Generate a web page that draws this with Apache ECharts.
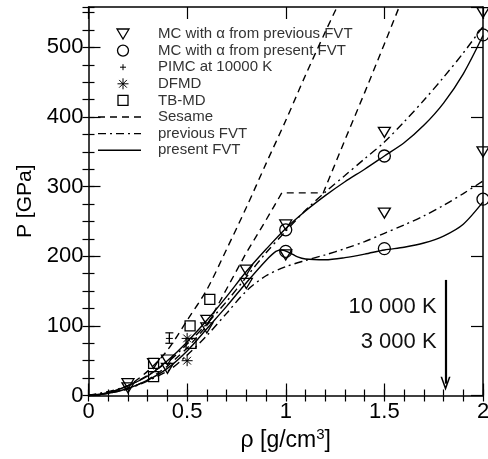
<!DOCTYPE html>
<html><head><meta charset="utf-8">
<script src="https://cdn.jsdelivr.net/npm/echarts@6/dist/echarts.min.js"></script>
<style>html,body{margin:0;padding:0;background:#fff}#c{width:488px;height:459px}</style>
</head><body><div id="c"></div>
<script>
// ---- data ----
const xTickLabels = ['0', '0.5', '1', '1.5', '2'];
const yTickLabels = ['0', '100', '200', '300', '400', '500'];
const legendLabels = ['MC with \u03b1 from previous FVT', 'MC with \u03b1 from present FVT', 'PIMC at 10000 K', 'DFMD', 'TB-MD', 'Sesame', 'previous FVT', 'present FVT'];
const tempLabels = ['10 000 K', '3 000 K'];

const mcPrevious = [[0.2,17],[0.2,11],[0.33,46],[0.4,51],[0.4,39],[0.6,108],[0.6,97],[0.8,180],[0.8,161],[1,245],[1,202],[1.5,378],[1.5,262],[2,550],[2,350]];
const mcPresent = [[1,238],[1,207],[1.5,344],[1.5,211],[2,518],[2,282]];
const pimc = [[0.41,82,75,90]];
const dfmd = [[0.5,82],[0.5,50]];
const tbmd = [[0.33,27],[0.33,46],[0.515,100],[0.52,75],[0.615,138]];

const sesameA = [[0,0],[0.1,4],[0.2,14],[0.3,35],[0.4,65],[0.5,108],[0.6,152],[0.7,210],[0.8,270],[0.9,333],[1.0,395],[1.1,460],[1.2,522],[1.26,558]];
const sesameB = [[0,0],[0.1,3],[0.2,9],[0.3,22],[0.4,42],[0.5,68],[0.6,100],[0.7,153],[0.8,205],[0.9,252],[0.98,291],[1.19,291],[1.3,367],[1.4,435],[1.5,505],[1.575,558]];
const prevFvtHigh = [[0,0],[0.2,14],[0.4,48],[0.5,74],[0.6,103],[0.7,135],[0.8,170],[0.9,205],[1.0,236],[1.1,266],[1.2,292],[1.3,316],[1.4,340],[1.5,364],[1.6,393],[1.7,424],[1.8,457],[1.9,492],[2.0,530]];
const prevFvtLow = [[0,0],[0.2,10],[0.4,35],[0.5,58],[0.6,86],[0.7,118],[0.8,150],[0.9,172],[1.0,185],[1.1,194],[1.2,202],[1.3,211],[1.4,221],[1.5,233],[1.6,245],[1.7,258],[1.8,273],[1.9,290],[2.0,308]];
const presentFvtHigh = [[0,0],[0.1,4],[0.2,14],[0.3,28],[0.4,50],[0.5,77],[0.6,108],[0.7,142],[0.8,178],[0.9,210],[1.0,240],[1.1,265],[1.2,287],[1.3,307],[1.4,325],[1.5,344],[1.6,363],[1.7,388],[1.8,420],[1.9,462],[2.0,517]];
const presentFvtLow = [[0,0],[0.1,3],[0.2,10],[0.3,22],[0.4,39],[0.5,64],[0.6,96],[0.7,128],[0.8,162],[0.9,194],[0.95,207],[0.98,209],[1.02,205],[1.06,199],[1.1,196],[1.2,195],[1.3,198],[1.4,203],[1.5,209],[1.6,213],[1.7,219],[1.8,229],[1.9,246],[2.0,278]];
const tempLabelPos = [[1.785,127],[1.785,77]];
const arrowFrom = [1.81,166];
const arrowTo = [1.81,17];

// ---- chart ----
const FONT = 'Liberation Sans, Arial, Helvetica, sans-serif';
const DASH = [7,5];
const DASHDOT = [8,4,2,4];
const BLACK = '#000';
const Y_MAX = 558;

const chart = echarts.init(document.getElementById('c'), null, {renderer:'canvas'});

function majorX(grid, pos, labels) {
  return {type:'value', gridIndex:grid, position:pos, min:0, max:2, interval:0.5,
    axisLine:{show:true, onZero:false, lineStyle:{color:BLACK, width:1.5}},
    axisTick:{show:true, inside:true, length:12, lineStyle:{color:BLACK, width:1.2}},
    axisLabel:{show:labels, margin:5, fontSize:22, color:BLACK, fontFamily:FONT,
      formatter:(v)=>{const i=Math.round(v/0.5); return xTickLabels[i]!==undefined?xTickLabels[i]:'';}},
    splitLine:{show:false}, minorTick:{show:false}};
}
function minorX(grid, pos) {
  return {type:'value', gridIndex:grid, position:pos, min:0, max:2, interval:0.1,
    axisLine:{show:false}, axisTick:{show:true, inside:true, length:6, lineStyle:{color:BLACK, width:1.2}},
    axisLabel:{show:false}, splitLine:{show:false}};
}
function majorY(grid, pos, labels) {
  return {type:'value', gridIndex:grid, position:pos, min:0, max:Y_MAX, interval:100,
    axisLine:{show:true, onZero:false, lineStyle:{color:BLACK, width:1.5}},
    axisTick:{show:true, inside:true, length:12, lineStyle:{color:BLACK, width:1.2}},
    axisLabel:{show:labels, margin:5, fontSize:22, color:BLACK, fontFamily:FONT, showMaxLabel:false,
      formatter:(v)=>{if (v%100!==0) return ''; const i=v/100; return yTickLabels[i]!==undefined?yTickLabels[i]:'';}},
    splitLine:{show:false}};
}
function minorY(grid, pos) {
  return {type:'value', gridIndex:grid, position:pos, min:0, max:Y_MAX, interval:25,
    axisLine:{show:false}, axisTick:{show:true, inside:true, length:6, lineStyle:{color:BLACK, width:1.2}},
    axisLabel:{show:false}, splitLine:{show:false}};
}

const gridBox = {left:88.5, right:5, top:7, bottom:63.5, containLabel:false, outerBoundsMode:'none', show:false};

const xAxes = [majorX(0,'bottom',true), majorX(0,'top',false), minorX(1,'bottom'), minorX(1,'top')];
xAxes[0].name = '{a|\u03c1 [g/cm}{s|3}{a|]}';
xAxes[0].nameLocation = 'middle';
xAxes[0].nameGap = 23;
xAxes[0].nameTextStyle = {rich:{a:{fontSize:23, color:BLACK, fontFamily:FONT}, s:{fontSize:15, color:BLACK, fontFamily:FONT, verticalAlign:'top', padding:[0,0,11,0]}}};
const yAxes = [majorY(0,'left',true), majorY(0,'right',false), minorY(1,'left'), minorY(1,'right')];
yAxes[0].name = 'P [GPa]';
yAxes[0].nameLocation = 'middle';
yAxes[0].nameGap = 52;
yAxes[0].nameTextStyle = {fontSize:21, color:BLACK, fontFamily:FONT};

function lineSeries(name, data, type) {
  return {type:'line', name, data, xAxisIndex:0, yAxisIndex:0, symbol:'none', smooth:0.3, silent:true,
    lineStyle:{color:BLACK, width:1.4, type}, z:2};
}
const hollow = {color:'rgba(0,0,0,0)', borderColor:BLACK, borderWidth:1.3, opacity:1};
const thinHollow = {color:'rgba(0,0,0,0)', borderColor:BLACK, borderWidth:1, opacity:1};
const PLUS = 'path://M0,5L10,5M5,0L5,10';
const STAR = 'path://M5,0L5,10M0,5L10,5M1.5,1.5L8.5,8.5M1.5,8.5L8.5,1.5';

const series = [
  lineSeries('Sesame', sesameA, DASH),
  Object.assign(lineSeries('Sesame', sesameB, DASH), {smooth:false}),
  lineSeries('previous FVT', prevFvtHigh, DASHDOT),
  lineSeries('previous FVT', prevFvtLow, DASHDOT),
  lineSeries('present FVT', presentFvtHigh, 'solid'),
  lineSeries('present FVT', presentFvtLow, 'solid'),
  {type:'scatter', name:legendLabels[0], data:mcPrevious, symbol:'triangle', symbolRotate:180, symbolSize:[12,10], itemStyle:hollow, z:5, silent:true},
  {type:'scatter', name:legendLabels[1], data:mcPresent, symbol:'circle', symbolSize:12, itemStyle:hollow, z:5, silent:true},
  {type:'scatter', name:legendLabels[2], data:pimc.map(d=>[d[0],d[1]]), symbol:PLUS, symbolSize:7, itemStyle:thinHollow, z:5, silent:true},
  {type:'custom', name:'pimcErr', data:pimc, encode:{x:0,y:1}, silent:true, z:5,
    renderItem:(params, api)=>{
      const x=api.value(0), lo=api.value(2), hi=api.value(3);
      const a=api.coord([x,lo]), b=api.coord([x,hi]); const w=4;
      const st={stroke:BLACK, lineWidth:1.2};
      return {type:'group', children:[
        {type:'line', shape:{x1:a[0],y1:a[1],x2:b[0],y2:b[1]}, style:st},
        {type:'line', shape:{x1:a[0]-w,y1:a[1],x2:a[0]+w,y2:a[1]}, style:st},
        {type:'line', shape:{x1:b[0]-w,y1:b[1],x2:b[0]+w,y2:b[1]}, style:st}
      ]};
    }},
  {type:'scatter', name:legendLabels[3], data:dfmd, symbol:STAR, symbolSize:11, itemStyle:thinHollow, z:5, silent:true},
  {type:'scatter', name:legendLabels[4], data:tbmd, symbol:'rect', symbolSize:10, itemStyle:hollow, z:5, silent:true},
  {type:'scatter', name:'temps', data:tempLabelPos, symbolSize:0, silent:true, z:6, itemStyle:{opacity:1},
    label:{show:true, position:'left', distance:4, fontSize:22, color:'#111', fontFamily:FONT,
      formatter:(p)=>tempLabels[p.dataIndex]},
    markLine:{silent:true, animation:false, symbol:['none','path://M5,0L10,13L8.4,13L5,4L1.6,13L0,13Z'], symbolSize:[10,14],
      itemStyle:{color:BLACK, opacity:1},
      lineStyle:{color:BLACK, width:2.2, type:'solid', opacity:1}, label:{show:false},
      data:[[{coord:arrowFrom},{coord:arrowTo}]]}}
];

// ---- legend drawn as graphic ----
const LX0 = 98, LX1 = 141, LCX = 123, LTX = 158, LY0 = 34, LDY = 16.6;
const lg = [];
legendLabels.forEach((t,i)=>{
  const y = LY0 + i*LDY;
  lg.push({type:'text', x:LTX, y:y, style:{text:t, fill:'#333', font:'15px '+FONT, textVerticalAlign:'middle', textAlign:'left'}});
  const st = {stroke:BLACK, fill:'none', lineWidth:1.3};
  if (i===0) lg.push({type:'polygon', shape:{points:[[LCX-6,y-5],[LCX+6,y-5],[LCX,y+5]]}, style:st});
  if (i===1) lg.push({type:'circle', shape:{cx:LCX, cy:y, r:5.5}, style:st});
  if (i===2) { lg.push({type:'line', shape:{x1:LCX-3,y1:y,x2:LCX+3,y2:y}, style:{stroke:BLACK,lineWidth:1}}); lg.push({type:'line', shape:{x1:LCX,y1:y-3,x2:LCX,y2:y+3}, style:{stroke:BLACK,lineWidth:1}}); }
  if (i===3) { const r=5.5; [[0,1],[1,0],[0.7,0.7],[0.7,-0.7]].forEach(d=>lg.push({type:'line', shape:{x1:LCX-d[0]*r,y1:y-d[1]*r,x2:LCX+d[0]*r,y2:y+d[1]*r}, style:{stroke:BLACK,lineWidth:1}})); }
  if (i===4) lg.push({type:'rect', shape:{x:LCX-5, y:y-5, width:10, height:10}, style:st});
  if (i>=5) {
    const dash = i===5?DASH:(i===6?DASHDOT:null);
    lg.push({type:'line', shape:{x1:LX0,y1:y,x2:LX1,y2:y}, style:{stroke:BLACK, lineWidth:1.4, lineDash:dash}});
  }
});

chart.setOption({
  animation:false,
  backgroundColor:'#fff',
  grid:[Object.assign({}, gridBox), Object.assign({}, gridBox)],
  xAxis:xAxes,
  yAxis:yAxes,
  series:series,
  graphic:[{type:'group', silent:true, children:lg}]
});
</script></body></html>
